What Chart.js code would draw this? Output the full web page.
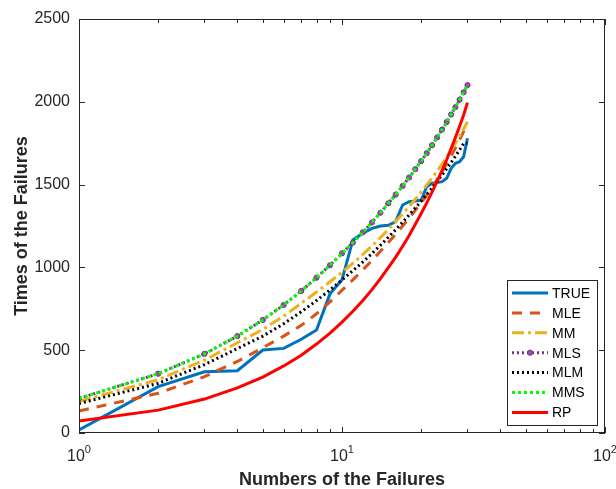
<!DOCTYPE html>
<html>
<head>
<meta charset="utf-8">
<script src="https://cdn.jsdelivr.net/npm/chart.js@4/dist/chart.umd.min.js"></script>
<style>
  html, body { margin: 0; padding: 0; background: #fff; }
  #wrap { width: 616px; height: 489px; }
</style>
</head>
<body>
<div id="wrap"><canvas id="failChart" width="616" height="489"></canvas></div>
<script>
const failureNo = [1, 2, 3, 4, 5, 6, 7, 8, 9, 10, 11, 12, 13, 14, 15, 16, 17, 18, 19, 20, 21, 22, 23, 24, 25, 26, 27, 28, 29, 30];

const trueTimes = [18, 280, 370, 376, 501, 511, 566, 622, 840, 925, 1166, 1206, 1236, 1250, 1254, 1276, 1377, 1397, 1401, 1407, 1487, 1508, 1512, 1518, 1538, 1598, 1629, 1638, 1668, 1780];
const mleTimes = [133, 240, 340, 432, 515, 585, 650, 720, 792, 862, 925, 985, 1042, 1097, 1150, 1200, 1250, 1298, 1345, 1390, 1437, 1484, 1531, 1578, 1626, 1674, 1722, 1771, 1820, 1870];
const mmTimes = [191, 322, 440, 545, 625, 706, 783, 851, 913, 970, 1025, 1078, 1130, 1180, 1229, 1277, 1323, 1368, 1412, 1455, 1498, 1540, 1582, 1624, 1666, 1708, 1750, 1792, 1836, 1880];
const mlsTimes = [209, 358, 478, 585, 683, 773, 858, 938, 1013, 1085, 1150, 1212, 1272, 1330, 1387, 1440, 1492, 1543, 1593, 1642, 1690, 1738, 1785, 1832, 1878, 1923, 1968, 2013, 2057, 2101];
const mlmTimes = [178, 300, 413, 510, 585, 660, 732, 800, 864, 924, 980, 1033, 1084, 1134, 1182, 1228, 1273, 1317, 1360, 1400, 1440, 1480, 1519, 1558, 1596, 1634, 1672, 1710, 1748, 1750];
const mmsTimes = mlsTimes.slice();
const rpTimes = [72, 138, 205, 272, 338, 405, 470, 537, 603, 670, 735, 800, 866, 932, 998, 1062, 1128, 1193, 1260, 1325, 1390, 1455, 1520, 1585, 1650, 1718, 1785, 1852, 1920, 1995];

const yTicks = [0, 500, 1000, 1500, 2000, 2500];
const xMajor = [1, 10, 100];
const xMinor = [2, 3, 4, 5, 6, 7, 8, 9, 20, 30, 40, 50, 60, 70, 80, 90];

const INK = '#262626';
const FONT = '"Liberation Sans", Arial, sans-serif';

function pairs(vals) {
  return failureNo.map((n, i) => ({ x: n, y: vals[i] }));
}

const series = [
  { label: 'TRUE', data: trueTimes, color: '#0072BD', dash: [], width: 3 },
  { label: 'MLE', data: mleTimes, color: '#D95319', dash: [10, 8], width: 3 },
  { label: 'MM', data: mmTimes, color: '#EDB120', dash: [12, 4, 3, 4], width: 3 },
  { label: 'MLS', data: mlsTimes, color: '#7E2F8E', dash: [2, 3], width: 3, marker: true },
  { label: 'MLM', data: mlmTimes, color: '#000000', dash: [2, 3], width: 3 },
  { label: 'MMS', data: mmsTimes, color: '#00FF00', dash: [3, 3], width: 3 },
  { label: 'RP', data: rpTimes, color: '#FF0000', dash: [], width: 3 },
];

// later series sit on top, like a hold-on plot
const datasets = series.map((s, i) => ({
  label: s.label,
  data: pairs(s.data),
  borderColor: s.color,
  backgroundColor: s.color,
  borderWidth: s.width,
  borderDash: s.dash,
  borderCapStyle: 'butt',
  tension: 0,
  fill: false,
  order: series.length - i,
  pointRadius: s.marker ? 2.6 : 0,
  pointBorderWidth: 1,
  pointBorderColor: '#7E2F8E',
  pointBackgroundColor: '#8f5a9c',
}));

function supLabel(ctx, base, exp, cx, cy) {
  ctx.font = '16px ' + FONT;
  const wb = ctx.measureText(base).width;
  ctx.font = '11px ' + FONT;
  const we = ctx.measureText(exp).width;
  const left = cx - (wb + we) / 2;
  ctx.textAlign = 'left';
  ctx.textBaseline = 'middle';
  ctx.font = '16px ' + FONT;
  ctx.fillText(base, left, cy);
  ctx.font = '11px ' + FONT;
  ctx.fillText(exp, left + wb, cy - 7);
}

const axisFrame = {
  id: 'axisFrame',
  afterDraw(chart) {
    const { ctx, chartArea: a, scales: { x, y } } = chart;
    ctx.save();
    ctx.strokeStyle = INK;
    ctx.fillStyle = INK;
    ctx.lineWidth = 1;
    ctx.setLineDash([]);

    // box
    ctx.strokeRect(Math.round(a.left) + 0.5, Math.round(a.top) + 0.5,
      Math.round(a.right - a.left) - 1, Math.round(a.bottom - a.top) - 1);

    // inward tick marks
    ctx.beginPath();
    const tickX = (v, len) => {
      const px = Math.round(x.getPixelForValue(v)) + 0.5;
      ctx.moveTo(px, a.bottom); ctx.lineTo(px, a.bottom - len);
      ctx.moveTo(px, a.top); ctx.lineTo(px, a.top + len);
    };
    xMajor.forEach(v => tickX(v, 6));
    xMinor.forEach(v => tickX(v, 4));
    yTicks.forEach(v => {
      const py = Math.round(y.getPixelForValue(v)) + 0.5;
      ctx.moveTo(a.left, py); ctx.lineTo(a.left + 6, py);
      ctx.moveTo(a.right, py); ctx.lineTo(a.right - 6, py);
    });
    ctx.stroke();

    // y tick labels
    ctx.font = '16px ' + FONT;
    ctx.textAlign = 'right';
    ctx.textBaseline = 'middle';
    yTicks.forEach(v => ctx.fillText(String(v), a.left - 9, y.getPixelForValue(v)));

    // x tick labels as powers of ten
    xMajor.forEach(v => {
      supLabel(ctx, '10', String(Math.round(Math.log10(v))), x.getPixelForValue(v), a.bottom + 24);
    });

    // axis titles
    ctx.font = 'bold 18px ' + FONT;
    ctx.textAlign = 'center';
    ctx.textBaseline = 'middle';
    ctx.fillText('Numbers of the Failures', (a.left + a.right) / 2, a.bottom + 47);
    ctx.save();
    ctx.translate(22, (a.top + a.bottom) / 2);
    ctx.rotate(-Math.PI / 2);
    ctx.fillText('Times of the Failures', 0, 0);
    ctx.restore();

    // legend
    const lx = 507, ly = 280, lw = 90, lh = 145;
    ctx.fillStyle = '#fff';
    ctx.fillRect(lx, ly, lw, lh);
    ctx.strokeStyle = INK;
    ctx.strokeRect(lx + 0.5, ly + 0.5, lw, lh);
    series.forEach((s, i) => {
      const cy = ly + 13 + i * 19.9;
      ctx.save();
      ctx.strokeStyle = s.color;
      ctx.lineWidth = s.width;
      ctx.lineCap = 'butt';
      ctx.setLineDash(s.dash);
      ctx.beginPath();
      ctx.moveTo(lx + 5, cy);
      ctx.lineTo(lx + 41, cy);
      ctx.stroke();
      if (s.marker) {
        ctx.setLineDash([]);
        ctx.lineWidth = 1;
        ctx.fillStyle = '#8f5a9c';
        ctx.beginPath();
        ctx.arc(lx + 23, cy, 2.6, 0, Math.PI * 2);
        ctx.fill();
        ctx.stroke();
      }
      ctx.restore();
      ctx.fillStyle = '#000';
      ctx.font = '14px ' + FONT;
      ctx.textAlign = 'left';
      ctx.textBaseline = 'middle';
      ctx.fillText(s.label, lx + 45, cy + 1);
    });
    ctx.restore();
  }
};

new Chart(document.getElementById('failChart'), {
  type: 'line',
  data: { datasets },
  options: {
    responsive: false,
    animation: false,
    devicePixelRatio: 1,
    layout: { padding: { left: 79, top: 19, right: 11, bottom: 56 } },
    plugins: { legend: { display: false }, tooltip: { enabled: false } },
    scales: {
      x: { type: 'logarithmic', min: 1, max: 100, display: false },
      y: { type: 'linear', min: 0, max: 2500, display: false },
    },
  },
  plugins: [axisFrame],
});
</script>
</body>
</html>
